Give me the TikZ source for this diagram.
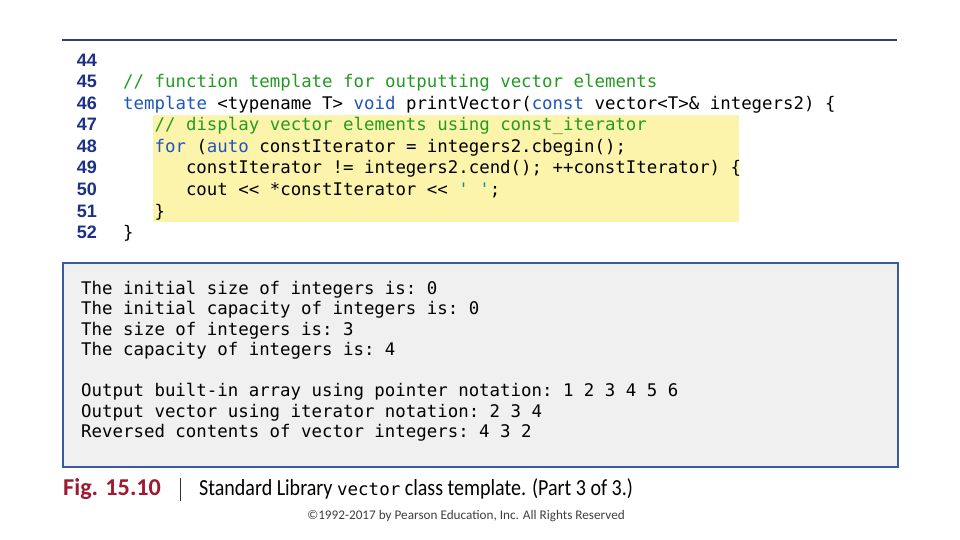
\documentclass[tikz,border=0pt]{standalone}
\usepackage{fontspec}
\setmainfont{Carlito}
\setmonofont{DejaVu Sans Mono}
\newfontfamily\numfont{Liberation Sans}
\newfontfamily\capfont{Carlito}[FakeStretch=0.87]
\definecolor{rulec}{RGB}{45,65,110}
\definecolor{numc}{RGB}{28,48,135}
\definecolor{kwc}{RGB}{30,85,190}
\definecolor{cmc}{RGB}{35,155,35}
\definecolor{strc}{RGB}{0,150,175}
\definecolor{hlc}{RGB}{253,244,172}
\definecolor{outfill}{RGB}{240,240,240}
\definecolor{outdraw}{RGB}{60,90,160}
\definecolor{figc}{RGB}{160,25,50}
\begin{document}
\begin{tikzpicture}[x=1pt,y=-1pt,
  lnum/.style={anchor=base east,inner sep=0pt,font=\numfont\bfseries\fontsize{18}{20}\selectfont,text=numc},
  codeline/.style={anchor=base west,inner sep=0pt,font=\ttfamily\fontsize{17.4}{20}\selectfont},
  outline/.style={anchor=base west,inner sep=0pt,font=\ttfamily\fontsize{17.4}{20}\selectfont}]
\useasboundingbox (0,0) rectangle (960,540);
\fill[white] (0,0) rectangle (960,540);
% top rule
\coordinate (rl) at (62,40);
\coordinate (rr) at (897,40);
\draw[rulec,line width=1.6pt] (rl) -- (rr);
% highlight
\fill[hlc] (153,115) rectangle (739,222);
% line numbers
\node[lnum] (l44) at (97,66.5) {44};
\node[lnum] (l45) at (97,88) {45};
\node[lnum] (l46) at (97,109.5) {46};
\node[lnum] (l47) at (97,131) {47};
\node[lnum] (l48) at (97,152.5) {48};
\node[lnum] (l49) at (97,174) {49};
\node[lnum] (l50) at (97,195.5) {50};
\node[lnum] (l51) at (97,217) {51};
\node[lnum] (l52) at (97,238.5) {52};
% code
\node[codeline] (c45) at (123,88) {\textcolor{cmc}{// function template for outputting vector elements}};
\node[codeline] (c46) at (123,109.5) {\textcolor{kwc}{template} <typename T> \textcolor{kwc}{void} printVector(\textcolor{kwc}{const} vector<T>\& integers2) \{};
\node[codeline] (c47) at (154.4,131) {\textcolor{cmc}{// display vector elements using const\_iterator}};
\node[codeline] (c48) at (154.4,152.5) {\textcolor{kwc}{for} (\textcolor{kwc}{auto} constIterator = integers2.cbegin();};
\node[codeline] (c49) at (185.8,174) {constIterator != integers2.cend(); ++constIterator) \{};
\node[codeline] (c50) at (185.8,195.5) {cout << *constIterator << \textcolor{strc}{\textquotesingle\ \textquotesingle};};
\node[codeline] (c51) at (154.4,217) {\}};
\node[codeline] (c52) at (123,238.5) {\}};
% output box
\node[draw=outdraw,fill=outfill,line width=1.6pt,inner sep=0pt,minimum width=835pt,minimum height=204pt,anchor=north west] (obox) at (62,262) {};
\node[outline] (o1) at (81,294) {The initial size of integers is: 0};
\node[outline] (o2) at (81,314.5) {The initial capacity of integers is: 0};
\node[outline] (o3) at (81,335) {The size of integers is: 3};
\node[outline] (o4) at (81,355.5) {The capacity of integers is: 4};
\node[outline] (o5) at (81,396.5) {Output built-in array using pointer notation: 1 2 3 4 5 6};
\node[outline] (o6) at (81,417) {Output vector using iterator notation: 2 3 4};
\node[outline] (o7) at (81,437.5) {Reversed contents of vector integers: 4 3 2};
% caption
\node[anchor=base west,inner sep=0pt,font=\bfseries\fontsize{24.2}{26}\selectfont,text=figc] (fig) at (63,495) {Fig. 15.10};
\coordinate (bt) at (180,478);
\coordinate (bb) at (180,501);
\draw[black!80,line width=0.8pt] (bt) -- (bb);
\node[anchor=base west,inner sep=0pt,font=\capfont\fontsize{23}{26}\selectfont] (cap) at (199,495) {Standard Library {\ttfamily\fontsize{17.5}{20}\selectfont vector} class template. (Part 3 of 3.)};
\node[anchor=base,inner sep=0pt,font=\fontsize{13.2}{15}\selectfont,text=black!75] (copy) at (466,519) {©1992-2017 by Pearson Education, Inc. All Rights Reserved};
\end{tikzpicture}
\end{document}
